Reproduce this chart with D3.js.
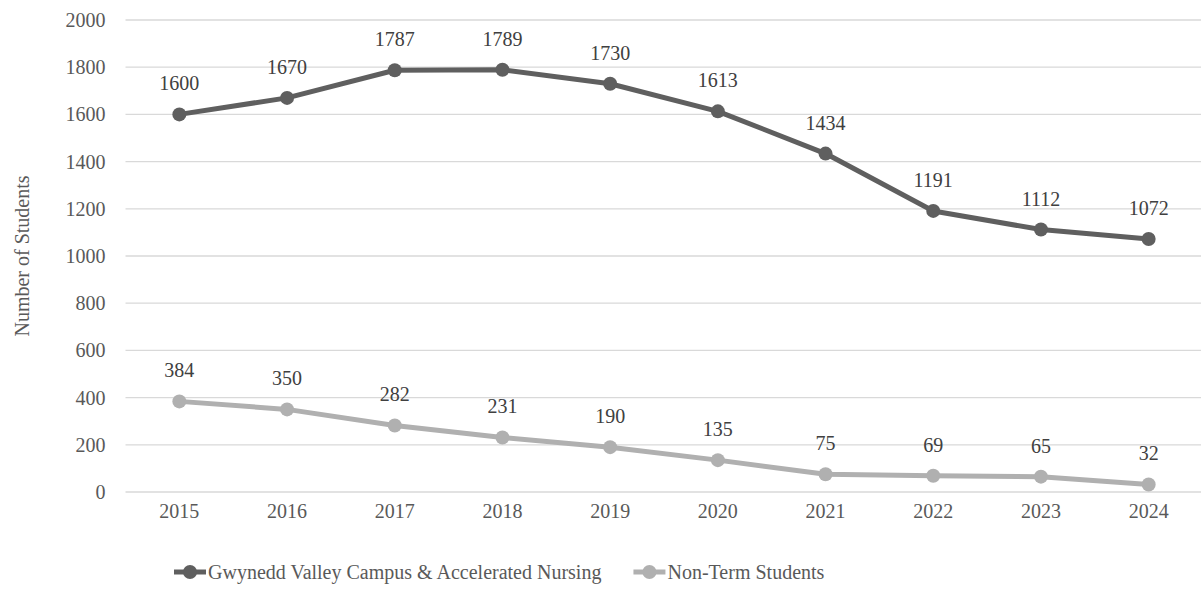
<!DOCTYPE html>
<html><head><meta charset="utf-8">
<script src="https://cdn.jsdelivr.net/npm/d3@7"></script>
<style>body{margin:0;background:#fff;} #c text{font-family:"Liberation Serif","Times New Roman",Tinos,serif;}</style>
</head><body>
<svg id="c" width="1201" height="589"></svg>
<script>
const years = ["2015","2016","2017","2018","2019","2020","2021","2022","2023","2024"];
const gwynedd = [1600,1670,1787,1789,1730,1613,1434,1191,1112,1072];
const nonTerm = [384,350,282,231,190,135,75,69,65,32];
const yTicks = [0,200,400,600,800,1000,1200,1400,1600,1800,2000];
const seriesNames = ["Gwynedd Valley Campus & Accelerated Nursing","Non-Term Students"];
const colors = ["#5f5f5f","#b0b0b0"];
const FF = "Liberation Serif, Times New Roman, serif";

const svg = d3.select("#c");
const L = 125.5, R = 1202.5, T = 20, B = 492;
const x = d3.scaleBand().domain(years).range([L, R]);
const y = d3.scaleLinear().domain([0,2000]).range([B, T]);
const cx = d => x(d) + x.bandwidth()/2;

// gridlines
svg.append("g").selectAll("line").data(yTicks).join("line")
  .attr("x1", L).attr("x2", 1201).attr("y1", d=>y(d)).attr("y2", d=>y(d))
  .attr("stroke", "#d9d9d9").attr("stroke-width", 1.3);

// y axis
const ya = svg.append("g").attr("transform", `translate(${L},0)`)
  .call(d3.axisLeft(y).tickValues(yTicks).tickFormat(d3.format("d")).tickSize(0).tickPadding(20));
ya.attr("font-family", FF).attr("font-size", 20);
ya.select(".domain").remove();
ya.selectAll("text").attr("fill", "#595959");

// x axis
const xa = svg.append("g").attr("transform", `translate(0,${B})`)
  .call(d3.axisBottom(x).tickSize(0).tickPadding(12));
xa.attr("font-family", FF).attr("font-size", 20);
xa.select(".domain").remove();
xa.selectAll("text").attr("fill", "#595959");

// y title
svg.append("text").attr("transform", `translate(29,${(T+B)/2}) rotate(-90)`)
  .attr("text-anchor","middle").attr("font-family", FF).attr("font-size", 20)
  .attr("fill","#595959").text("Number of Students");

const line = d3.line().x((d,i)=>cx(years[i])).y(d=>y(d));
[gwynedd, nonTerm].forEach((vals, si) => {
  svg.append("path").datum(vals).attr("d", line).attr("fill","none")
    .attr("stroke", colors[si]).attr("stroke-width", 5).attr("stroke-linejoin","round");
  svg.append("g").selectAll("circle").data(vals).join("circle")
    .attr("cx",(d,i)=>cx(years[i])).attr("cy", d=>y(d)).attr("r", 7).attr("fill", colors[si]);
  svg.append("g").attr("font-family", FF).attr("font-size", 20)
    .selectAll("text").data(vals).join("text")
    .attr("x",(d,i)=>cx(years[i])).attr("y", d=>y(d)-24)
    .attr("text-anchor","middle")
    .attr("fill","#404040").text(d=>d);
});

// legend (second item placed after the measured width of the first)
let legX = 174;
seriesNames.forEach((n, i) => {
  const g = svg.append("g").attr("transform", `translate(${legX},572)`)
    .attr("font-family", FF).attr("font-size", 20);
  g.append("line").attr("x1",0).attr("x2",32).attr("stroke",colors[i]).attr("stroke-width",5);
  g.append("circle").attr("cx",16).attr("r",7).attr("fill",colors[i]);
  const t = g.append("text").attr("x",34).attr("y",7)
    .attr("fill","#595959").text(n);
  const w = t.node().getComputedTextLength();
  legX = Math.max(518, legX + 34 + w + 32);
});
</script>
</body></html>
